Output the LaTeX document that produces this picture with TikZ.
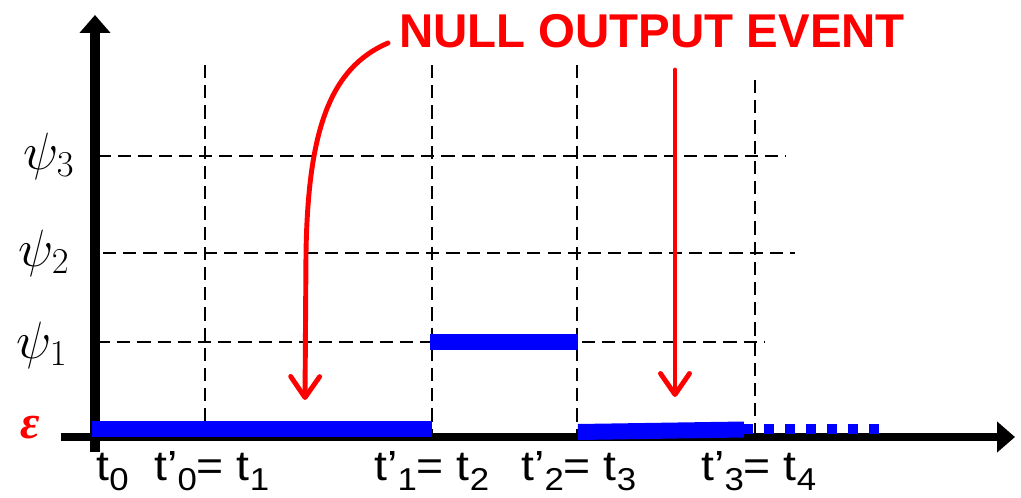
\documentclass[tikz,border=0pt]{standalone}
\usepackage{amsmath, amssymb}
\usepackage{fontspec}
\setmainfont{Liberation Sans}
\newfontfamily\serifgreek{Liberation Serif}
\usepackage{tikz}
\usetikzlibrary{arrows.meta}

% lowered index as in the time labels
\newcommand{\lowsub}[1]{\raisebox{-0.25em}{\fontsize{18}{20}\selectfont #1}}

\begin{document}
\begin{tikzpicture}[x=0.02cm, y=-0.02cm,
    gridline/.style={black, line width=0.7pt, dash pattern=on 7.5pt off 4pt},
    level/.style={blue, line width=0.32cm},
    note/.style={red, line width=2.8pt, line cap=round,
      -{Straight Barb[length=0.42cm, width=0.58cm, line cap=round, line join=round]}},
    tlab/.style={inner sep=0pt, anchor=base west, xscale=1.1,
      font=\fontsize{24}{28}\selectfont},
    psilab/.style={inner sep=0pt, scale=1.2, font=\fontsize{24}{28}\selectfont}]
      \useasboundingbox (0,0) rectangle (1021,497);

      % Define points (units are pixels, y grows downwards)
      \coordinate (O) at (95,437);
      \coordinate (Xs) at (61,437);
      \coordinate (Xe) at (1015,437);
      \coordinate (Ys) at (95,452);
      \coordinate (Ye) at (95,15);

      % Dashed grid: levels psi_3, psi_2, psi_1
      \draw[gridline] (98,156) -- (785,156);
      \draw[gridline] (103,253) -- (795,253);
      \draw[gridline] (97,342) -- (765,342);

      % Dashed grid: event times
      \foreach \x/\top in {205/65, 432/65, 577/65, 755/80}
        \draw[gridline] (\x,\top) -- (\x,440);

      % Draw the axes
      \draw[line width=5pt, -{Triangle[length=0.36cm, width=0.6cm]}] (Xs) -- (Xe);
      \draw[line width=6pt, -{Triangle[length=0.36cm, width=0.6cm]}] (Ys) -- (Ye);

      % Output trajectory (blue)
      \draw[level] (92,429) -- (432,429);
      \draw[level] (430,342) -- (578,342);
      \draw[level] (578,432) -- (744,429.5);
      \draw[blue, line width=0.2cm, dash pattern=on 0.2cm off 0.22cm] (743,429) -- (880,429);

      % Label and arrows for the null output events (red)
      \node[red, font=\bfseries\fontsize{27}{32}\selectfont, anchor=base] (title) at (652,48) {NULL OUTPUT EVENT};
      \draw[note] (388,43) .. controls (330,68) and (308,130) .. (306,253) -- (305,400);
      \draw[note] (675,70) -- (675,397);

      % Level labels
      \node[psilab] (psi3) at (49,156) {$\psi_3$};
      \node[psilab] (psi2) at (44,253) {$\psi_2$};
      \node[psilab] (psi1) at (42,345) {$\psi_1$};
      \node[red, inner sep=0pt, font=\serifgreek\bfseries\itshape\fontsize{27}{30}\selectfont] (eps) at (30,428) {ε};

      % Time labels
      \node[tlab] (t0) at (96,480) {t\lowsub{0}};
      \node[tlab] (t1) at (154,480) {t’\lowsub{0}= t\lowsub{1}};
      \node[tlab] (t2) at (374,480) {t’\lowsub{1}= t\lowsub{2}};
      \node[tlab] (t3) at (521,480) {t’\lowsub{2}= t\lowsub{3}};
      \node[tlab] (t4) at (701,480) {t’\lowsub{3}= t\lowsub{4}};

    \end{tikzpicture}
\end{document}
